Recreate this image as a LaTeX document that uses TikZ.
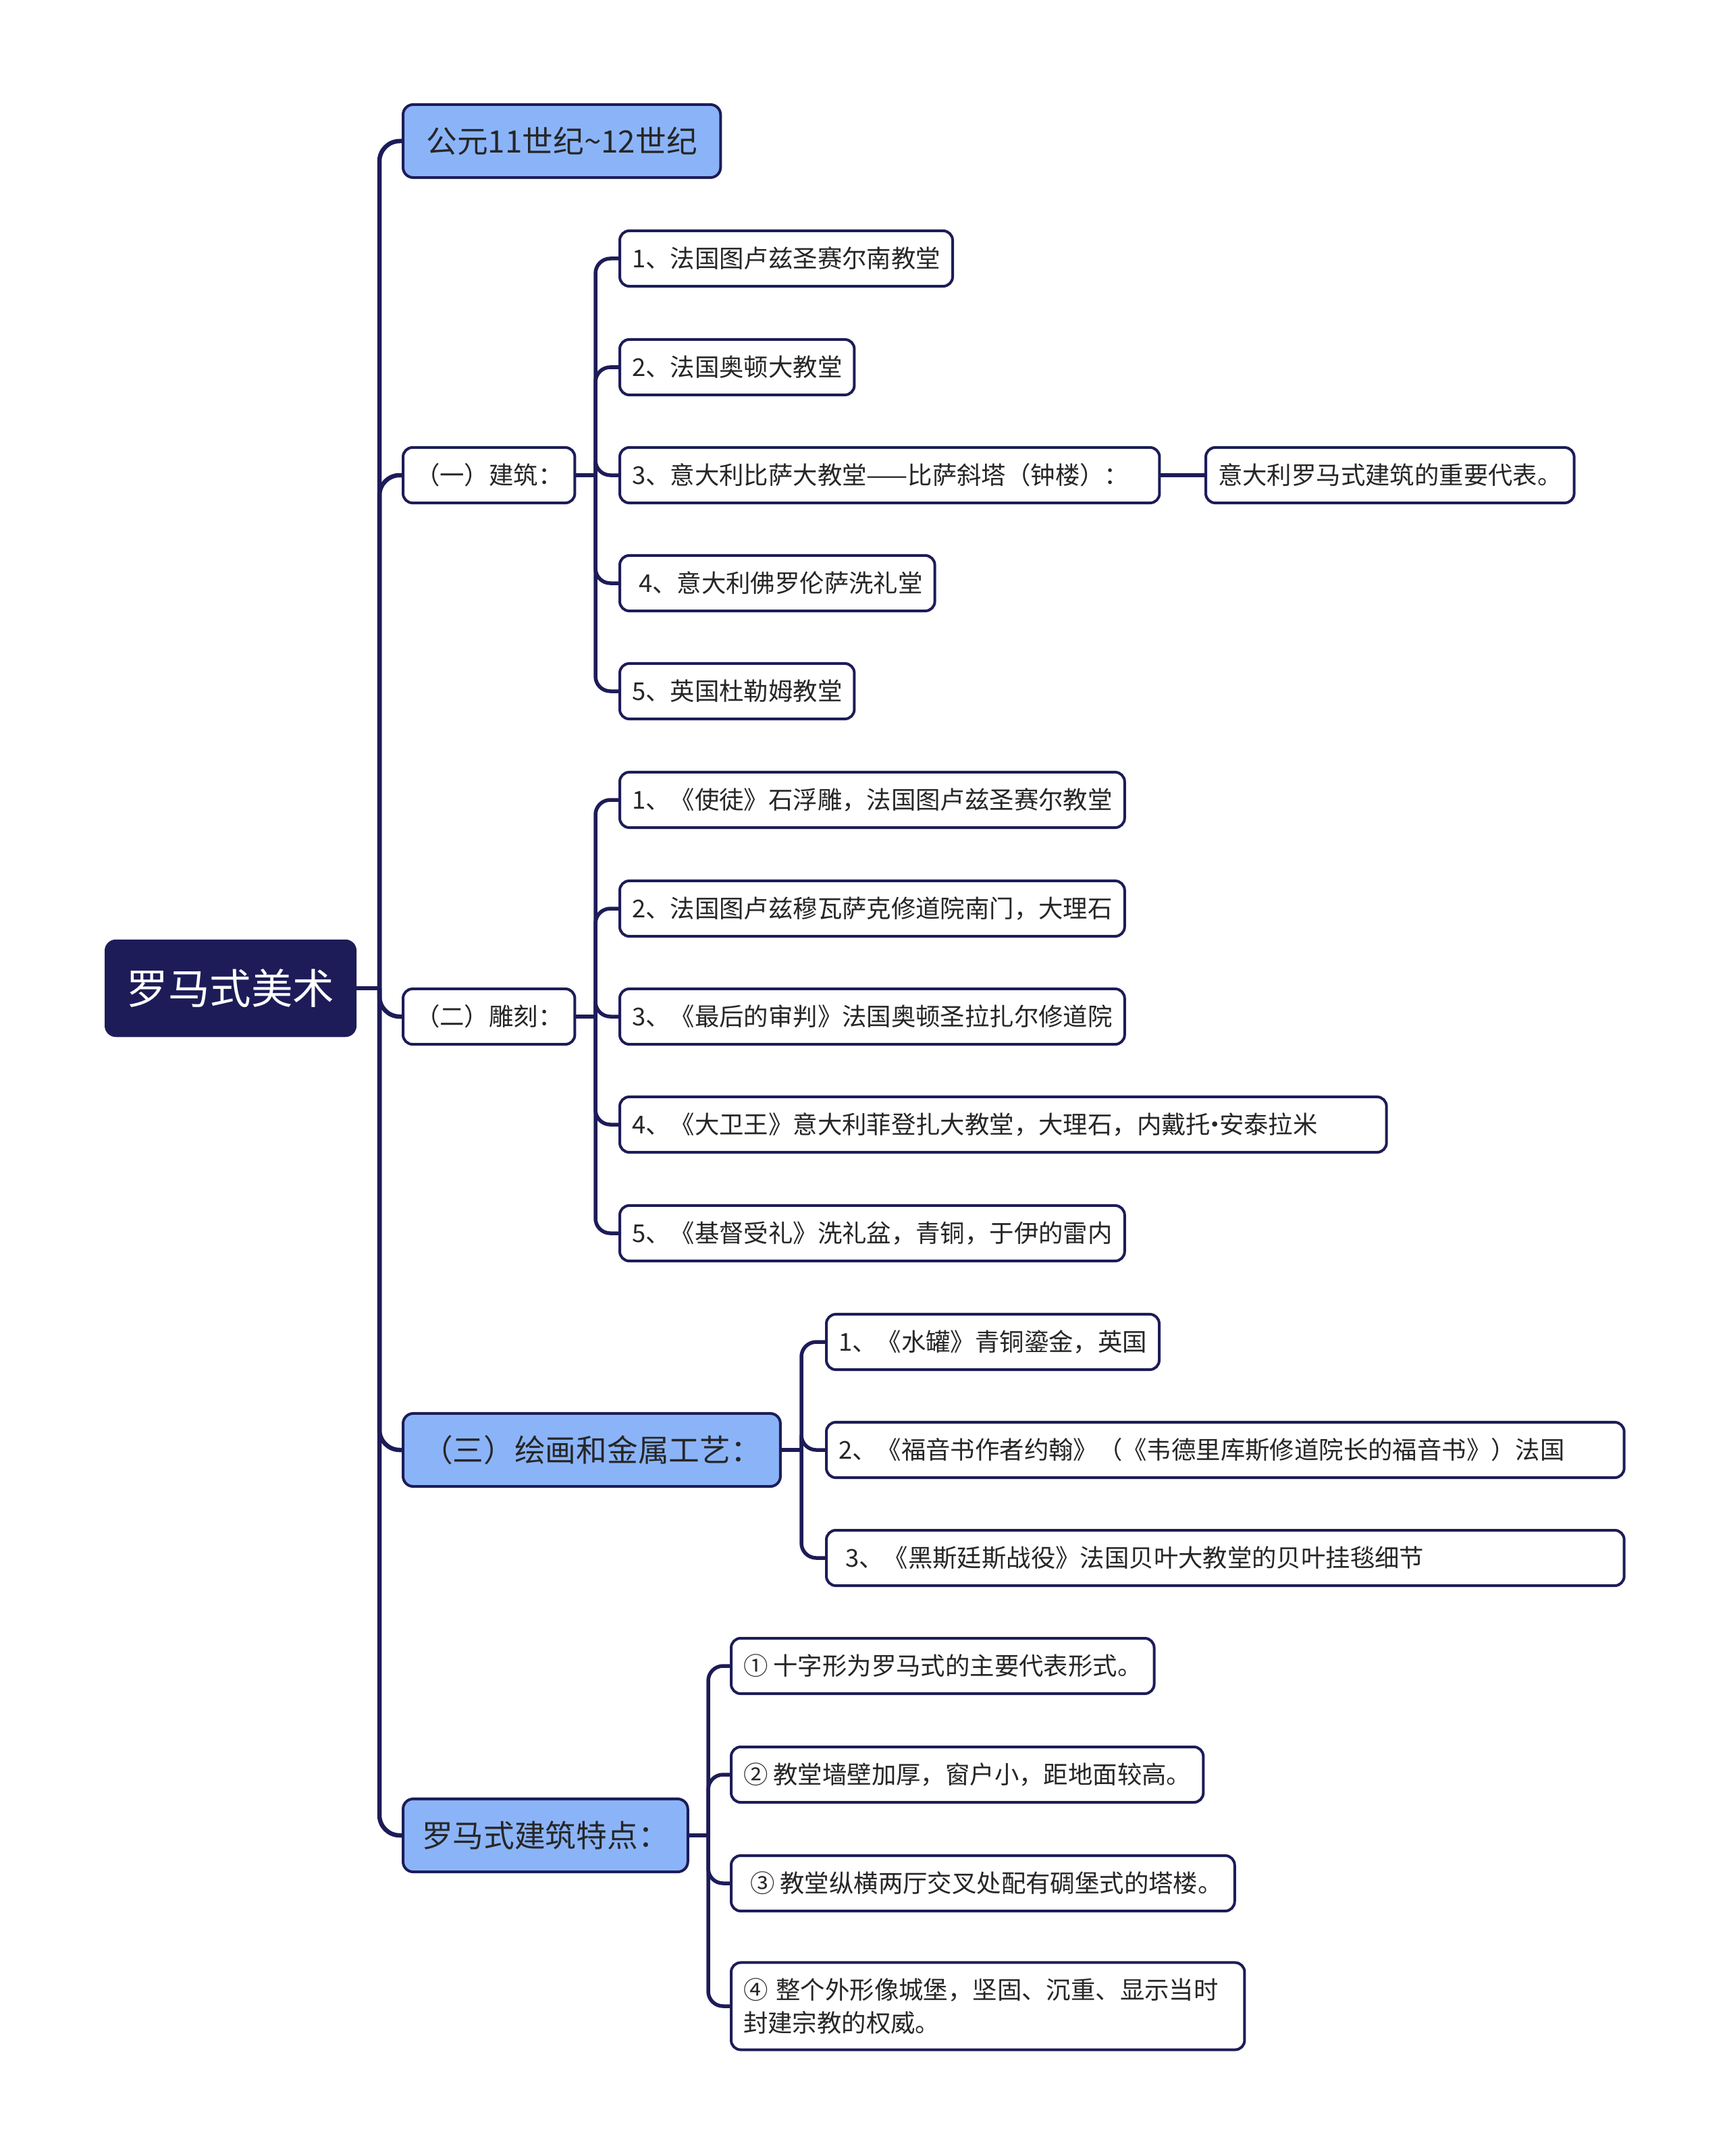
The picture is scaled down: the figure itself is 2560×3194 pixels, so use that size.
\documentclass[tikz,border=0pt]{standalone}
\usepackage{fontspec}
\setmainfont{Noto Sans CJK SC}
\usetikzlibrary{positioning}
\definecolor{navy}{RGB}{29,28,88}
\definecolor{lblue}{RGB}{139,180,248}
\definecolor{ink}{RGB}{38,38,38}

\begin{document}
\begin{tikzpicture}[x=0.01cm,y=-0.01cm,
  rootbox/.style={fill=navy,draw=navy,rounded corners=0.16cm,text=white,
    font=\fontsize{17.5}{20}\selectfont,inner xsep=0.32cm,minimum height=1.43cm,anchor=west},
  topic/.style={fill=lblue,draw=navy,line width=0.04cm,rounded corners=0.15cm,text=ink,
    font=\fontsize{13}{16}\selectfont,inner xsep=0.28cm,minimum height=1.08cm,anchor=west},
  leaf/.style={fill=white,draw=navy,line width=0.04cm,rounded corners=0.14cm,text=ink,
    font=\fontsize{10.35}{14}\selectfont,inner xsep=0.18cm,minimum height=0.82cm,anchor=west,align=left},
  link/.style={draw=navy,line width=0.065cm,rounded corners=0.3cm},
  sublink/.style={draw=navy,line width=0.055cm,rounded corners=0.22cm}]
\useasboundingbox (0,0) rectangle (2560,3194);
% ---- root and first level ----
\node[rootbox] (root) at (155,1464) {罗马式美术};
\node[topic,text width=4.14cm,align=center] (era) at (595,209) {公元11世纪\textasciitilde12世纪};
\node[leaf] (arch) at (595,704) {（一）建筑：};
\node[leaf] (sculp) at (595,1506) {（二）雕刻：};
\node[topic] (paint) at (595,2148) {（三）绘画和金属工艺：};
\node[topic] (feat) at (595,2719) {罗马式建筑特点：};
\coordinate (jroot) at (562,1464);
\draw[link] (root.east) -- (jroot);
\foreach \n in {era,arch,sculp,paint,feat} \draw[link] (jroot) |- (\n.west);
% ---- (一) architecture ----
\node[leaf] (a1) at (916,383) {1、法国图卢兹圣赛尔南教堂};
\node[leaf] (a2) at (916,544) {2、法国奥顿大教堂};
\node[leaf,text width=7.63cm] (a3) at (916,704) {3、意大利比萨大教堂——比萨斜塔（钟楼）：};
\node[leaf] (a3x) at (1784,704) {意大利罗马式建筑的重要代表。};
\node[leaf] (a4) at (916,864) {\hspace*{0.1cm}4、意大利佛罗伦萨洗礼堂};
\node[leaf] (a5) at (916,1024) {5、英国杜勒姆教堂};
\coordinate (jarch) at (882,704);
\draw[sublink] (arch.east) -- (jarch);
\foreach \n in {a1,a2,a3,a4,a5} \draw[sublink] (jarch) |- (\n.west);
\draw[sublink] (a3.east) -- (a3x.west);
% ---- (二) sculpture ----
\node[leaf] (s1) at (916,1185) {1、《使徒》石浮雕，法国图卢兹圣赛尔教堂};
\node[leaf] (s2) at (916,1346) {2、法国图卢兹穆瓦萨克修道院南门，大理石};
\node[leaf] (s3) at (916,1506) {3、《最后的审判》法国奥顿圣拉扎尔修道院};
\node[leaf,text width=10.99cm] (s4) at (916,1666) {4、《大卫王》意大利菲登扎大教堂，大理石，内戴托\makebox[0.35em]{·}安泰拉米};
\node[leaf] (s5) at (916,1827) {5、《基督受礼》洗礼盆，青铜，于伊的雷内};
\coordinate (jsculp) at (882,1506);
\draw[sublink] (sculp.east) -- (jsculp);
\foreach \n in {s1,s2,s3,s4,s5} \draw[sublink] (jsculp) |- (\n.west);
% ---- (三) painting and metalwork ----
\node[leaf] (p1) at (1222,1988) {1、《水罐》青铜鎏金，英国};
\node[leaf,text width=11.45cm] (p2) at (1222,2148) {2、《福音书作者约翰》（《韦德里库斯修道院长的福音书》）法国};
\node[leaf,text width=11.45cm] (p3) at (1222,2308) {\hspace*{0.1cm}3、《黑斯廷斯战役》法国贝叶大教堂的贝叶挂毯细节};
\coordinate (jpaint) at (1187,2148);
\draw[sublink] (paint.east) -- (jpaint);
\foreach \n in {p1,p2,p3} \draw[sublink] (jpaint) |- (\n.west);
% ---- features ----
\node[leaf] (f1) at (1081,2468) {① 十字形为罗马式的主要代表形式。};
\node[leaf] (f2) at (1081,2629) {② 教堂墙壁加厚，窗户小，距地面较高。};
\node[leaf] (f3) at (1081,2790) {\hspace*{0.1cm}③ 教堂纵横两厅交叉处配有碉堡式的塔楼。};
\node[leaf,text width=7.24cm,minimum height=1.29cm] (f4) at (1081,2972) {④ 整个外形像城堡，坚固、沉重、显示当时\\封建宗教的权威。};
\coordinate (jfeat) at (1049,2719);
\draw[sublink] (feat.east) -- (jfeat);
\foreach \n in {f1,f2,f3,f4} \draw[sublink] (jfeat) |- (\n.west);
\end{tikzpicture}
\end{document}
